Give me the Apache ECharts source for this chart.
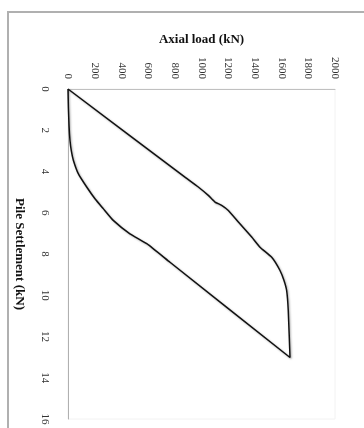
<!DOCTYPE html>
<html>
<head>
<meta charset="utf-8">
<script src="https://cdn.jsdelivr.net/npm/echarts@6/dist/echarts.min.js"></script>
<style>
  html, body { margin: 0; padding: 0; background: #fff; }
  #frame { position: absolute; left: 7px; top: 11px; width: 420px; height: 460px;
           border-left: 2px solid #b0b0b0; border-top: 2px solid #b0b0b0; }
  #chart { position: absolute; left: 0; top: 0; width: 364px; height: 428px; }
</style>
</head>
<body>
<div id="frame"></div>
<div id="chart"></div>
<script>
// Load-settlement loop (loading branch then unloading branch)
const loadingLoad   = [0, 876, 976, 1051, 1101, 1151, 1201, 1276, 1376, 1438, 1526, 1588, 1618, 1638, 1650, 1663];
const loadingSettle = [0, 4.27, 4.75, 5.16, 5.48, 5.64, 5.89, 6.45, 7.18, 7.67, 8.16, 8.80, 9.29, 9.78, 10.75, 13.02];
const unloadLoad    = [1663, 764, 590, 464, 339, 264, 202, 140, 77, 40, 25, 15, 8, 3, 0];
const unloadSettle  = [13.02, 8.40, 7.50, 7.02, 6.37, 5.80, 5.32, 4.75, 4.10, 3.45, 3.00, 2.50, 1.80, 0.90, 0];

const loadTicks = [0, 200, 400, 600, 800, 1000, 1200, 1400, 1600, 1800, 2000];
const settleTicks = [0, 2, 4, 6, 8, 10, 12, 14, 16];

const pts = [];
loadingLoad.forEach((v, i) => pts.push([v, loadingSettle[i]]));
unloadLoad.forEach((v, i) => { if (i > 0) pts.push([v, unloadSettle[i]]); });

const chart = echarts.init(document.getElementById('chart'), null, { renderer: 'canvas' });
const serif = 'Liberation Serif, Times New Roman, serif';
chart.setOption({
  animation: false,
  backgroundColor: 'transparent',
  grid: { left: 68, top: 89, right: 29, bottom: 9, show: true, borderColor: '#f2f2f2', borderWidth: 1 },
  xAxis: {
    type: 'value', position: 'top', min: loadTicks[0], max: loadTicks[loadTicks.length - 1], interval: 200,
    name: 'Axial load (kN)', nameLocation: 'middle', nameGap: 43,
    nameTextStyle: { fontFamily: serif, fontWeight: 'bold', fontSize: 13, color: '#111' },
    axisLine: { show: true, lineStyle: { color: '#c0c0c0', width: 1 } },
    axisTick: { show: false },
    splitLine: { show: false },
    axisLabel: { rotate: -90, margin: 10, fontFamily: serif, fontSize: 11, color: '#333',
                 formatter: v => String(v) }
  },
  yAxis: {
    type: 'value', inverse: true, min: settleTicks[0], max: settleTicks[settleTicks.length - 1], interval: 2,
    name: 'Pile Settlement (kN)', nameLocation: 'middle', nameGap: 42, nameRotate: -90,
    nameTextStyle: { fontFamily: serif, fontWeight: 'bold', fontSize: 13, color: '#111' },
    axisLine: { show: true, lineStyle: { color: '#b0b0b0', width: 1 } },
    axisTick: { show: false },
    splitLine: { show: false },
    axisLabel: { rotate: -90, margin: 18, fontFamily: serif, fontSize: 11, color: '#333',
                 formatter: v => String(v) }
  },
  series: [{
    type: 'line', data: pts, showSymbol: false, smooth: 0.15,
    lineStyle: { color: '#111', width: 1.5, shadowColor: 'rgba(0,0,0,0.35)', shadowBlur: 2, shadowOffsetX: 1, shadowOffsetY: 1 }
  }]
});
</script>
</body>
</html>
